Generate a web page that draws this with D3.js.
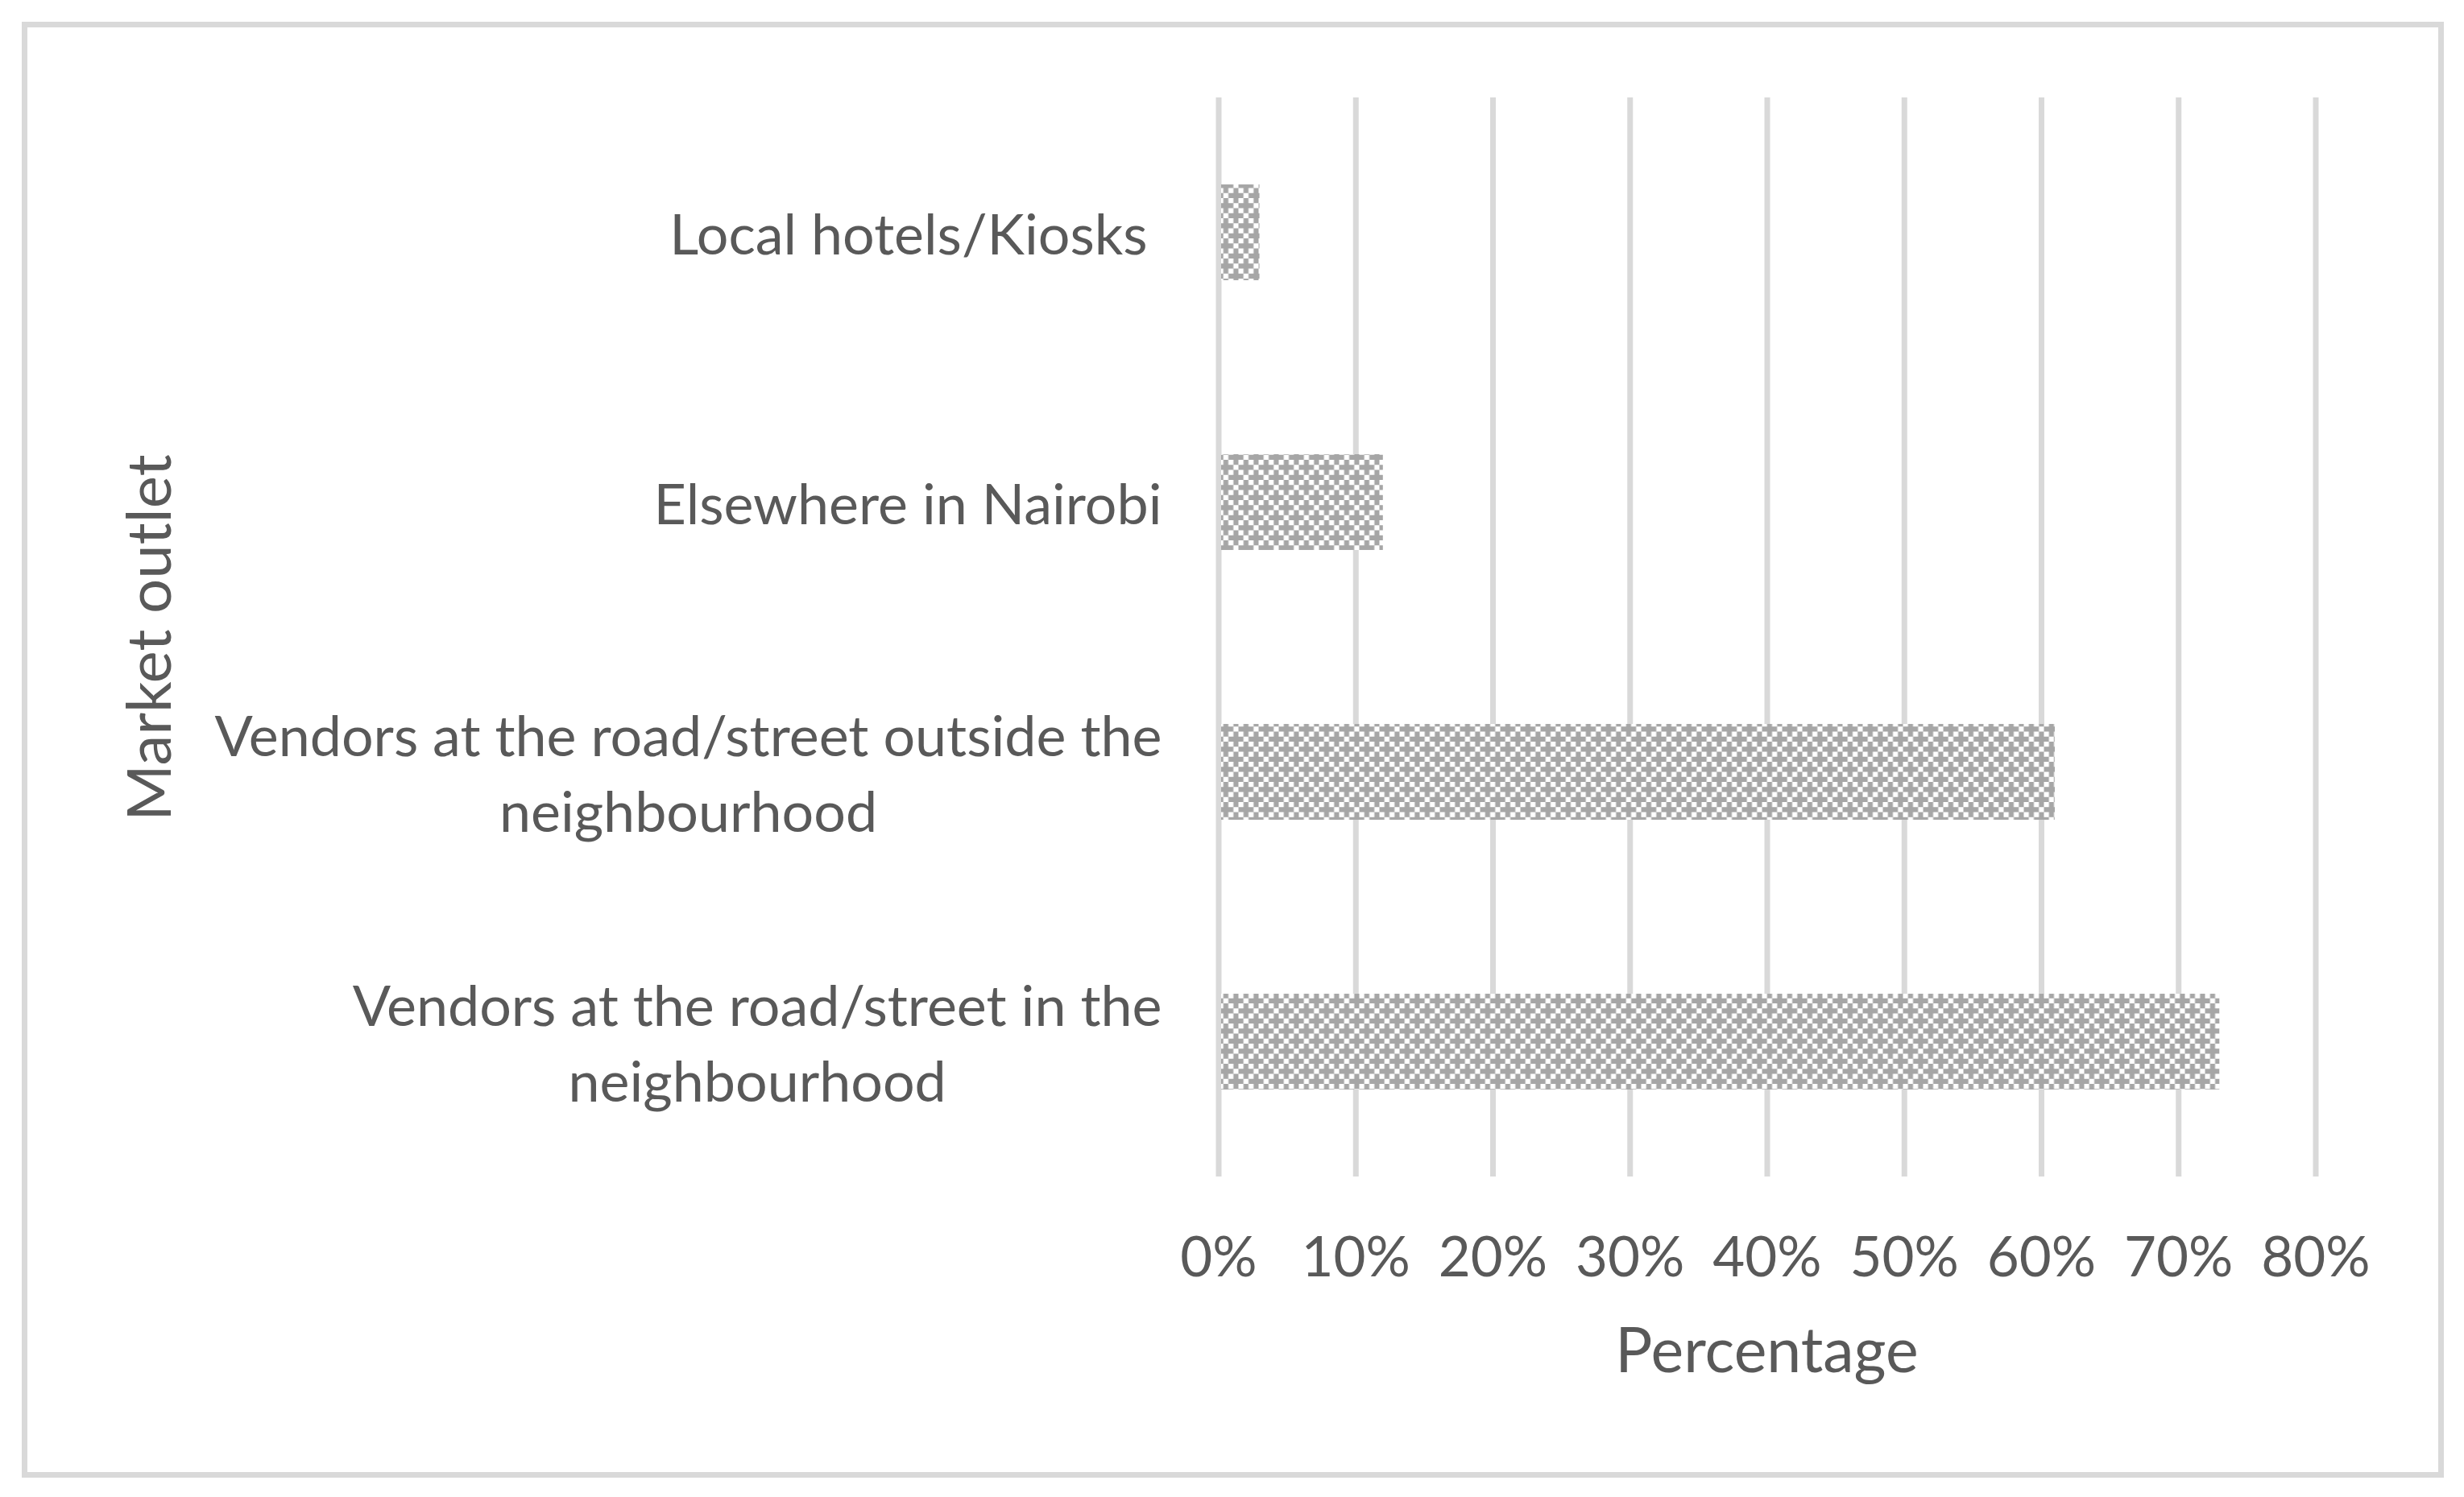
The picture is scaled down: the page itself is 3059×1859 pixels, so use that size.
<!DOCTYPE html>
<html>
<head>
<meta charset="utf-8">
<script src="https://cdn.jsdelivr.net/npm/d3@7"></script>
<style>
  html, body { margin: 0; padding: 0; background: #ffffff; }
  text { font-family: Lato, "Noto Sans", sans-serif; fill: #595959; white-space: pre; }
</style>
</head>
<body>
<script>
// market outlets, top to bottom as in the chart
var categories = [
    "Local hotels/Kiosks ",
    "Elsewhere in Nairobi",
    "Vendors at the road/street outside the neighbourhood",
    "Vendors at the road/street in the neighbourhood"
];
// how the category labels wrap
var labelLines = [
    ["Local hotels/Kiosks "],
    ["Elsewhere in Nairobi"],
    ["Vendors at the road/street outside the", "neighbourhood"],
    ["Vendors at the road/street in the", "neighbourhood"]
];
var values = [3, 12, 61, 73];
var tickValues = [0, 10, 20, 30, 40, 50, 60, 70, 80];
var xTitle = "Percentage";
var yTitle = "Market outlet";

var W = 3059, H = 1859;
var margin = { top: 121, left: 1512.5, right: 184.5, bottom: 398 };
var width = W - margin.left - margin.right;
var height = H - margin.top - margin.bottom;

var svg = d3.select("body").append("svg")
    .attr("width", W)
    .attr("height", H);

// outer chart border
svg.append("rect")
    .attr("x", 30.5).attr("y", 30.5)
    .attr("width", 3000).attr("height", 1801)
    .attr("fill", "#ffffff")
    .attr("stroke", "#d9d9d9")
    .attr("stroke-width", 7);

// small crosses fill like the Excel pattern (4x4 cells per tile)
var cell = 6.25;
var defs = svg.append("defs");
var pat = defs.append("pattern")
    .attr("id", "crosses")
    .attr("patternUnits", "userSpaceOnUse")
    .attr("width", cell * 4).attr("height", cell * 4);
pat.append("rect").attr("width", cell * 4).attr("height", cell * 4).attr("fill", "#a6a6a6");
var holes = [[0, 0], [2, 0], [0, 2], [2, 2], [3, 1], [1, 3]];
holes.forEach(function (h) {
    pat.append("rect")
        .attr("x", h[0] * cell).attr("y", h[1] * cell)
        .attr("width", cell).attr("height", cell)
        .attr("fill", "#ffffff");
});

var g = svg.append("g")
    .attr("transform", "translate(" + margin.left + "," + margin.top + ")");

var x = d3.scaleLinear().domain([0, 80]).range([0, width]);
var y = d3.scaleBand().domain(categories).range([0, height])
    .paddingInner(0.645).paddingOuter(0.3225);

// gridlines + tick labels
var xAxis = g.append("g")
    .attr("transform", "translate(0," + height + ")")
    .call(d3.axisBottom(x).tickValues(tickValues)
        .tickSize(-height)
        .tickFormat(function (d) { return d + "%"; }));
xAxis.select(".domain").remove();
xAxis.selectAll(".tick line")
    .attr("stroke", "#d9d9d9")
    .attr("stroke-width", 7);
xAxis.selectAll(".tick text")
    .attr("y", 124)
    .attr("dy", 0)
    .attr("fill", "#595959")
    .style("font-size", "69px")
    .style("font-family", "Lato");

// bars
g.selectAll(".bar")
    .data(values)
    .enter().append("rect")
    .attr("class", "bar")
    .attr("x", x(0) + 3.5)
    .attr("y", function (d, i) { return y(categories[i]); })
    .attr("width", function (d) { return x(d) - x(0) - 3.5; })
    .attr("height", y.bandwidth())
    .attr("fill", "url(#crosses)");

// category labels, block right aligned, lines centred inside it
var labelRight = -70;
var lineGap = 94;
labelLines.forEach(function (lines, i) {
    var cy = y(categories[i]) + y.bandwidth() / 2;
    var t = g.append("text")
        .attr("text-anchor", "middle")
        .style("font-size", "70px");
    var spans = t.selectAll("tspan").data(lines).enter().append("tspan")
        .text(function (d) { return d; })
        .attr("dy", 0);
    var maxW = 0;
    spans.each(function () { maxW = Math.max(maxW, this.getComputedTextLength()); });
    var cx = labelRight - maxW / 2;
    spans.attr("x", cx)
        .attr("y", function (d, j) {
            return cy + (j - (lines.length - 1) / 2) * lineGap;
        })
        .attr("dominant-baseline", "central");
});

// axis titles
g.append("text")
    .attr("x", width / 2)
    .attr("y", 1704 - margin.top)
    .attr("text-anchor", "middle")
    .style("font-size", "77px")
    .text(xTitle);

svg.append("text")
    .attr("transform", "translate(212,792) rotate(-90)")
    .attr("text-anchor", "middle")
    .style("font-size", "76px")
    .text(yTitle);
</script>
</body>
</html>
